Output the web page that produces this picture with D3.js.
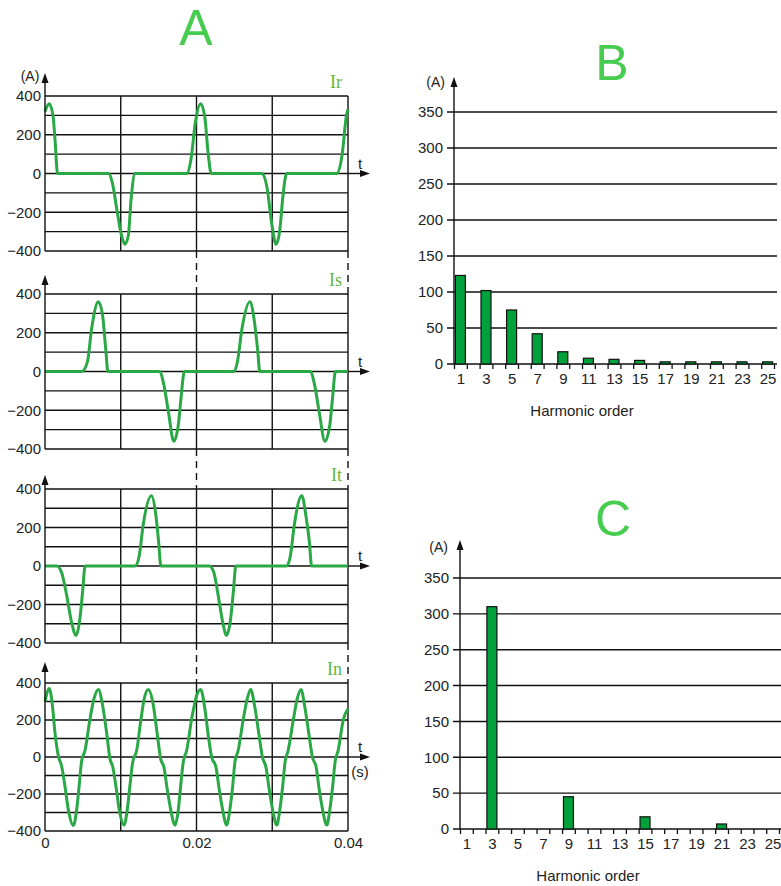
<!DOCTYPE html>
<html>
<head>
<meta charset="utf-8">
<script src="https://cdn.jsdelivr.net/npm/d3@7"></script>
<style>
body { margin: 0; background: #fff; }
text { font-family: "Liberation Sans", Arial, sans-serif; fill: #222; }
.grid { stroke: #111; stroke-width: 1.4; }
.wave { fill: none; stroke: #2aa845; stroke-width: 3; stroke-linejoin: round; }
.bar { fill: #00a03c; stroke: #111; stroke-width: 1.2; }
.big { font-size: 50px; fill: #46cd50; }
.phase { font-family: "Liberation Serif", serif; font-size: 18px; fill: #62b83a; }
</style>
</head>
<body>
<svg id="chart" width="781" height="886"></svg>
<script>
// waveforms: [time in ms, current in A]
var irPoints = [[0,320],[0.55,360],[1.05,300],[1.35,160],[1.65,0],[8.4,0],[8.9,-50],[9.5,-190],[10.1,-320],[10.55,-365],[11.0,-320],[11.35,-140],[11.9,0],
    [18.7,0],[19.3,80],[19.8,250],[20.55,360],[21.1,290],[21.5,120],[21.95,0],[28.6,0],[29.3,-70],[29.9,-250],[30.5,-365],[31.0,-290],[31.4,-120],[31.9,0],
    [38.5,0],[39.2,90],[39.8,300],[40,330]]
var isPoints = [[0,0],[4.85,0],[5.6,50],[6.15,220],[7.05,360],[7.6,290],[8.05,100],[8.3,0],[15.1,0],[15.7,-70],[16.3,-210],[17.0,-360],[17.6,-275],[17.95,-140],[18.4,0],
    [24.9,0],[25.4,50],[26.0,220],[27.05,360],[27.6,270],[28.1,100],[28.35,0],[35.0,0],[35.6,-70],[36.2,-210],[36.95,-360],[37.6,-275],[37.95,-140],[38.35,0],[40,0]]
var itPoints = [[0,0],[1.55,0],[2.2,-35],[2.85,-150],[3.5,-290],[4.1,-360],[4.6,-275],[4.95,-140],[5.3,0],[11.9,0],[12.45,55],[12.95,210],[14.05,365],[14.65,260],[15.0,125],[15.3,0],
    [21.7,0],[22.3,-35],[22.85,-150],[23.45,-290],[23.95,-360],[24.5,-275],[24.85,-140],[25.2,0],[31.9,0],[32.4,55],[32.9,210],[33.9,365],[34.45,260],[34.9,125],[35.2,0],[40,0]]
var inPoints = [[0,300],[0.57,370],[1.0,270],[1.32,130],[1.76,5],[2.2,-50],[2.64,-160],[3.08,-285],[3.74,-370],[4.18,-285],[4.5,-160],[4.84,-20],[5.28,35],[5.94,205],[6.47,315],[7.04,365],
    [7.6,280],[8.14,130],[8.58,-10],[8.93,-50],[9.37,-160],[9.8,-285],[10.43,-368],[10.86,-285],[11.2,-160],[11.57,-30],[12.1,35],[12.67,205],[13.1,315],[13.64,365],
    [14.3,280],[14.8,130],[15.27,-10],[15.7,-55],[16.14,-175],[16.6,-285],[17.16,-368],[17.6,-285],[17.9,-160],[18.26,-25],[18.7,35],[19.36,205],[20.0,330],[20.55,365],
    [21.1,262],[21.56,115],[22.0,0],[22.57,-55],[23.0,-175],[23.45,-285],[23.98,-368],[24.4,-285],[24.77,-160],[25.08,-25],[25.5,35],[26.18,205],[26.7,315],[27.15,365],
    [27.7,270],[28.25,120],[28.7,0],[29.17,-55],[29.6,-175],[30.05,-285],[30.6,-368],[31.0,-285],[31.37,-160],[31.7,-25],[32.1,35],[32.8,205],[33.3,315],[33.8,365],
    [34.3,270],[34.85,120],[35.3,0],[35.8,-55],[36.2,-175],[36.65,-285],[37.2,-368],[37.6,-285],[37.97,-160],[38.3,-25],[38.7,35],[39.4,205],[40,260]]

var waveGrid = [-400,-300,-200,-100,0,100,200,300,400]
var waveTicks = [-400,-200,0,200,400]
var timeGrid = [10,20,30,40]
var timeLabels = [0,20,40]

// spectra
var harmonicLabels = [1,3,5,7,9,11,13,15,17,19,21,23,25]
var phaseHarmonics = [1,3,5,7,9,11,13,15,17,19,21,23,25]
var phaseAmps = [123,102,75,42,17,8,6.5,5,3,3,3,3,3]
var neutralHarmonics = [3,9,15,21]
var neutralAmps = [310,45,17,7]
var spectrumTicks = [0,50,100,150,200,250,300,350]

var svg = d3.select('#chart')

function arrowUp(x, y) {
    svg.append('path').attr('d', 'M' + x + ',' + y + 'l-3.5,10l7,0z').attr('fill', '#111')
}
function arrowRight(x, y) {
    svg.append('path').attr('d', 'M' + x + ',' + y + 'l-10,-3.5l0,7z').attr('fill', '#111')
}

var tx = d3.scaleLinear().domain([0, 40]).range([45, 348])
var line = d3.line()
    .x(function(d) { return tx(d[0]) })
    .curve(d3.curveMonotoneX)

var panels = [
    {name: 'Ir', data: irPoints, top: 96, bottom: 251, arrowTop: 73},
    {name: 'Is', data: isPoints, top: 294, bottom: 449, arrowTop: 275},
    {name: 'It', data: itPoints, top: 489, bottom: 643, arrowTop: 475},
    {name: 'In', data: inPoints, top: 683, bottom: 831, arrowTop: 662}
]

panels.forEach(function(p, i) {
    var y = d3.scaleLinear().domain([-400, 400]).range([p.bottom, p.top])
    var g = svg.append('g')
    g.selectAll('line.h').data(waveGrid).enter().append('line')
        .attr('class', 'grid')
        .attr('x1', tx(0)).attr('x2', tx(40))
        .attr('y1', y).attr('y2', y)
    g.selectAll('line.v').data(timeGrid).enter().append('line')
        .attr('class', 'grid')
        .attr('x1', tx).attr('x2', tx)
        .attr('y1', p.top).attr('y2', p.bottom)

    var ax = g.append('g')
        .attr('transform', 'translate(' + tx(0) + ',0)')
        .call(d3.axisLeft(y).tickValues(waveTicks).tickSize(0).tickPadding(4))
    ax.select('.domain').remove()
    ax.selectAll('text').style('font-size', '15px').attr('fill', '#222')

    // axes with arrows
    svg.append('line').attr('class', 'grid')
        .attr('x1', tx(0)).attr('x2', tx(0)).attr('y1', p.arrowTop + 4).attr('y2', p.bottom)
    arrowUp(tx(0), p.arrowTop)
    svg.append('line').attr('class', 'grid')
        .attr('x1', tx(40)).attr('x2', 366).attr('y1', y(0)).attr('y2', y(0))
    arrowRight(370, y(0))
    svg.append('text').attr('x', 360).attr('y', y(0) - 5).attr('text-anchor', 'middle')
        .style('font-size', '15px').text('t')

    svg.append('text').attr('class', 'phase')
        .attr('x', 342).attr('y', p.top - 8).attr('text-anchor', 'end')
        .text(p.name)

    g.append('path').datum(p.data)
        .attr('class', 'wave')
        .attr('d', line.y(function(d) { return y(d[1]) }))

    var next = panels[i + 1]
    if (next) {
        svg.selectAll(null).data([20, 40]).enter().append('line')
            .attr('class', 'grid')
            .attr('stroke-dasharray', '7,5')
            .attr('x1', tx).attr('x2', tx)
            .attr('y1', p.bottom).attr('y2', next.top)
    }
})

svg.append('text').attr('x', 30).attr('y', 81).attr('text-anchor', 'middle')
    .style('font-size', '14px').text('(A)')
var lastBottom = panels[3].bottom
var tAxis = svg.append('g')
    .attr('transform', 'translate(0,' + lastBottom + ')')
    .call(d3.axisBottom(tx).tickValues(timeLabels).tickSize(0).tickPadding(6)
        .tickFormat(function(d) { return d === 0 ? '0' : d3.format('.2f')(d / 1000) }))
tAxis.select('.domain').remove()
tAxis.selectAll('text').style('font-size', '15px').attr('fill', '#222')
svg.append('text').attr('x', 360).attr('y', 777).attr('text-anchor', 'middle')
    .style('font-size', '15px').text('(s)')

svg.append('text').attr('class', 'big').attr('x', 196).attr('y', 45).attr('text-anchor', 'middle').text('A')
svg.append('text').attr('class', 'big').attr('x', 612).attr('y', 80).attr('text-anchor', 'middle').text('B')
svg.append('text').attr('class', 'big').attr('x', 613).attr('y', 536).attr('text-anchor', 'middle').text('C')

function drawSpectrum(c, orders, amps) {
    var hx = d3.scaleLinear().domain([0.5, 25.5]).range([c.left, c.right])
    var y = d3.scaleLinear().domain([0, 350]).range([c.base, c.top])
    var g = svg.append('g')
    g.selectAll('line.h').data(spectrumTicks).enter().append('line')
        .attr('class', 'grid')
        .attr('x1', c.left - 7).attr('x2', c.right + 3)
        .attr('y1', y).attr('y2', y)

    var ay = g.append('g')
        .attr('transform', 'translate(' + (c.left - 7) + ',0)')
        .call(d3.axisLeft(y).tickValues(spectrumTicks).tickSize(0).tickPadding(4))
    ay.select('.domain').remove()
    ay.selectAll('text').style('font-size', '15px').attr('fill', '#222')

    var bounds = d3.range(0.5, 26, 1)
    var ticks = g.append('g')
        .attr('transform', 'translate(0,' + c.base + ')')
        .call(d3.axisBottom(hx).tickValues(bounds).tickSize(5).tickFormat(''))
    ticks.select('.domain').remove()
    ticks.selectAll('line').attr('stroke', '#111').attr('stroke-width', 1.3)

    var labels = g.append('g')
        .attr('transform', 'translate(0,' + c.base + ')')
        .call(d3.axisBottom(hx).tickValues(harmonicLabels).tickSize(0).tickPadding(9))
    labels.select('.domain').remove()
    labels.selectAll('text').style('font-size', '15px').attr('fill', '#222')

    g.selectAll('rect').data(orders).enter().append('rect')
        .attr('class', 'bar')
        .attr('x', function(d) { return hx(d) - 5 })
        .attr('width', 10)
        .attr('y', function(d, i) { return y(amps[i]) })
        .attr('height', function(d, i) { return c.base - y(amps[i]) })

    svg.append('line').attr('class', 'grid')
        .attr('x1', c.left).attr('x2', c.left).attr('y1', c.arrowTop + 4).attr('y2', c.base)
    arrowUp(c.left, c.arrowTop)
    svg.append('text').attr('x', c.unitX).attr('y', c.unitY).attr('text-anchor', 'end')
        .style('font-size', '14px').text('(A)')
    svg.append('text').attr('x', c.titleX).attr('y', c.titleY).attr('text-anchor', 'middle')
        .style('font-size', '15px').text('Harmonic order')
}

drawSpectrum({left: 454, right: 774, top: 112, base: 364, arrowTop: 77, unitX: 445, unitY: 87, titleX: 582, titleY: 416},
    phaseHarmonics, phaseAmps)
drawSpectrum({left: 460, right: 779, top: 578, base: 829, arrowTop: 540, unitX: 448, unitY: 552, titleX: 588, titleY: 881},
    neutralHarmonics, neutralAmps)
</script>
</body>
</html>
